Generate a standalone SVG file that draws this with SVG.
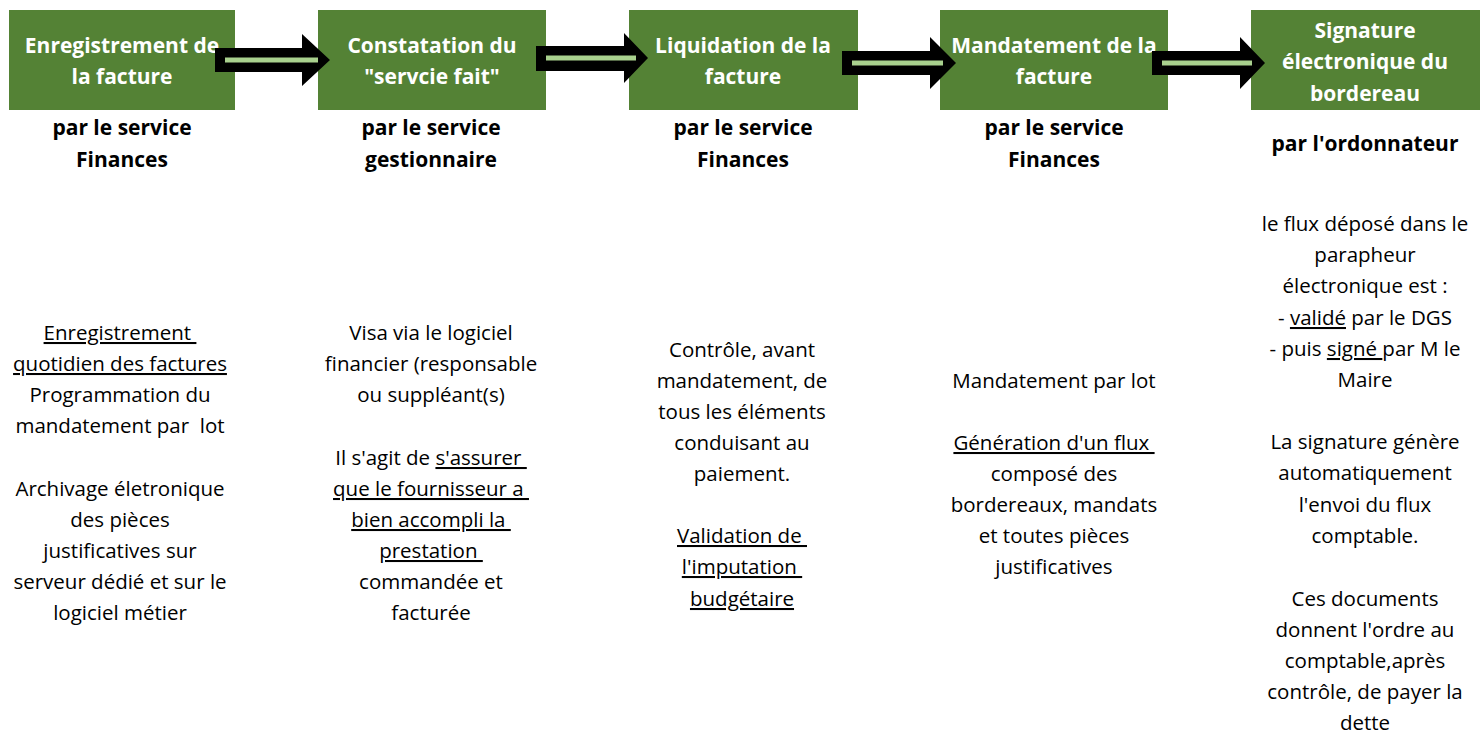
<svg xmlns="http://www.w3.org/2000/svg" width="1483" height="734" viewBox="0 0 1483 734">
<style>
.box{fill:#548235}
.t{font-family:"Open Sans",Lato,sans-serif;font-size:20.5px;fill:#000;text-anchor:middle;white-space:pre}
.h{font-family:"Open Sans",Lato,sans-serif;font-size:21px;font-weight:bold;fill:#fff;text-anchor:middle}
.s{font-family:"Open Sans",Lato,sans-serif;font-size:21px;font-weight:bold;fill:#000;text-anchor:middle}
.u{text-decoration:underline}
.ah{fill:#000}
.in{stroke:#a9d18e;stroke-width:5}
</style>
<rect width="1483" height="734" fill="#fff"/>
<g id="n1">
<rect class="box" x="9" y="10" width="226" height="100"/>
<text class="h" x="122" y="53">Enregistrement de</text>
<text class="h" x="122" y="84">la facture</text>
<text class="s" x="122" y="135">par le service</text>
<text class="s" x="122" y="167">Finances</text>
<text class="t" x="120" y="340"><tspan class="u">Enregistrement </tspan></text>
<text class="t" x="120" y="371"><tspan class="u">quotidien des factures</tspan></text>
<text class="t" x="120" y="402">Programmation du</text>
<text class="t" x="120" y="433">mandatement par  lot</text>
<text class="t" x="120" y="496">Archivage életronique</text>
<text class="t" x="120" y="527">des pièces</text>
<text class="t" x="120" y="558">justificatives sur</text>
<text class="t" x="120" y="589">serveur dédié et sur le</text>
<text class="t" x="120" y="620">logiciel métier</text>
</g>
<g id="n2">
<rect class="box" x="318" y="10" width="228" height="100"/>
<text class="h" x="432" y="53">Constatation du</text>
<text class="h" x="432" y="84">"servcie fait"</text>
<text class="s" x="431" y="135">par le service</text>
<text class="s" x="431" y="167">gestionnaire</text>
<text class="t" x="431" y="340">Visa via le logiciel</text>
<text class="t" x="431" y="371">financier (responsable</text>
<text class="t" x="431" y="402">ou suppléant(s)</text>
<text class="t" x="431" y="465">Il s'agit de <tspan class="u">s'assurer </tspan></text>
<text class="t" x="431" y="496"><tspan class="u">que le fournisseur a </tspan></text>
<text class="t" x="431" y="527"><tspan class="u">bien accompli la </tspan></text>
<text class="t" x="431" y="558"><tspan class="u">prestation </tspan></text>
<text class="t" x="431" y="589">commandée et</text>
<text class="t" x="431" y="620">facturée</text>
</g>
<g id="n3">
<rect class="box" x="629" y="10" width="229" height="100"/>
<text class="h" x="743" y="53">Liquidation de la</text>
<text class="h" x="743" y="84">facture</text>
<text class="s" x="743" y="135">par le service</text>
<text class="s" x="743" y="167">Finances</text>
<text class="t" x="742" y="357">Contrôle, avant</text>
<text class="t" x="742" y="388">mandatement, de</text>
<text class="t" x="742" y="419">tous les éléments</text>
<text class="t" x="742" y="450">conduisant au</text>
<text class="t" x="742" y="481">paiement.</text>
<text class="t" x="742" y="543"><tspan class="u">Validation de </tspan></text>
<text class="t" x="742" y="574"><tspan class="u">l'imputation </tspan></text>
<text class="t" x="742" y="606"><tspan class="u">budgétaire</tspan></text>
</g>
<g id="n4">
<rect class="box" x="940" y="10" width="228" height="100"/>
<text class="h" x="1054" y="53">Mandatement de la</text>
<text class="h" x="1054" y="84">facture</text>
<text class="s" x="1054" y="135">par le service</text>
<text class="s" x="1054" y="167">Finances</text>
<text class="t" x="1054" y="388">Mandatement par lot</text>
<text class="t" x="1054" y="450"><tspan class="u">Génération d'un flux </tspan></text>
<text class="t" x="1054" y="481">composé des</text>
<text class="t" x="1054" y="512">bordereaux, mandats</text>
<text class="t" x="1054" y="543">et toutes pièces</text>
<text class="t" x="1054" y="574">justificatives</text>
</g>
<g id="n5">
<rect class="box" x="1251" y="10" width="229" height="100"/>
<text class="h" x="1365" y="38">Signature</text>
<text class="h" x="1365" y="69">électronique du</text>
<text class="h" x="1365" y="101">bordereau</text>
<text class="s" x="1365" y="151">par l'ordonnateur</text>
<text class="t" x="1365" y="231">le flux déposé dans le</text>
<text class="t" x="1365" y="262">parapheur</text>
<text class="t" x="1365" y="293">électronique est :</text>
<text class="t" x="1365" y="325">- <tspan class="u">validé</tspan> par le DGS</text>
<text class="t" x="1365" y="356">- puis <tspan class="u">signé </tspan>par M le</text>
<text class="t" x="1365" y="387">Maire</text>
<text class="t" x="1365" y="449">La signature génère</text>
<text class="t" x="1365" y="480">automatiquement</text>
<text class="t" x="1365" y="512">l'envoi du flux</text>
<text class="t" x="1365" y="543">comptable.</text>
<text class="t" x="1365" y="606">Ces documents</text>
<text class="t" x="1365" y="637">donnent l'ordre au</text>
<text class="t" x="1365" y="668">comptable,après</text>
<text class="t" x="1365" y="699">contrôle, de payer la</text>
<text class="t" x="1365" y="730">dette</text>
</g>
<g id="connectors">
<path class="ah" d="M215,48 H302 V34 L330,60 L302,86 V72 H215 Z"/>
<line class="in" x1="225" y1="60" x2="318" y2="60"/>
<path class="ah" d="M536,46 H624 V33 L648,58 L624,83 V71 H536 Z"/>
<line class="in" x1="546" y1="58" x2="636" y2="58"/>
<path class="ah" d="M842,51 H930 V37 L956,63 L930,89 V75 H842 Z"/>
<line class="in" x1="852" y1="63" x2="943" y2="63"/>
<path class="ah" d="M1152,51 H1240 V37 L1265,63 L1240,89 V75 H1152 Z"/>
<line class="in" x1="1162" y1="63" x2="1252" y2="63"/>
</g>
</svg>
